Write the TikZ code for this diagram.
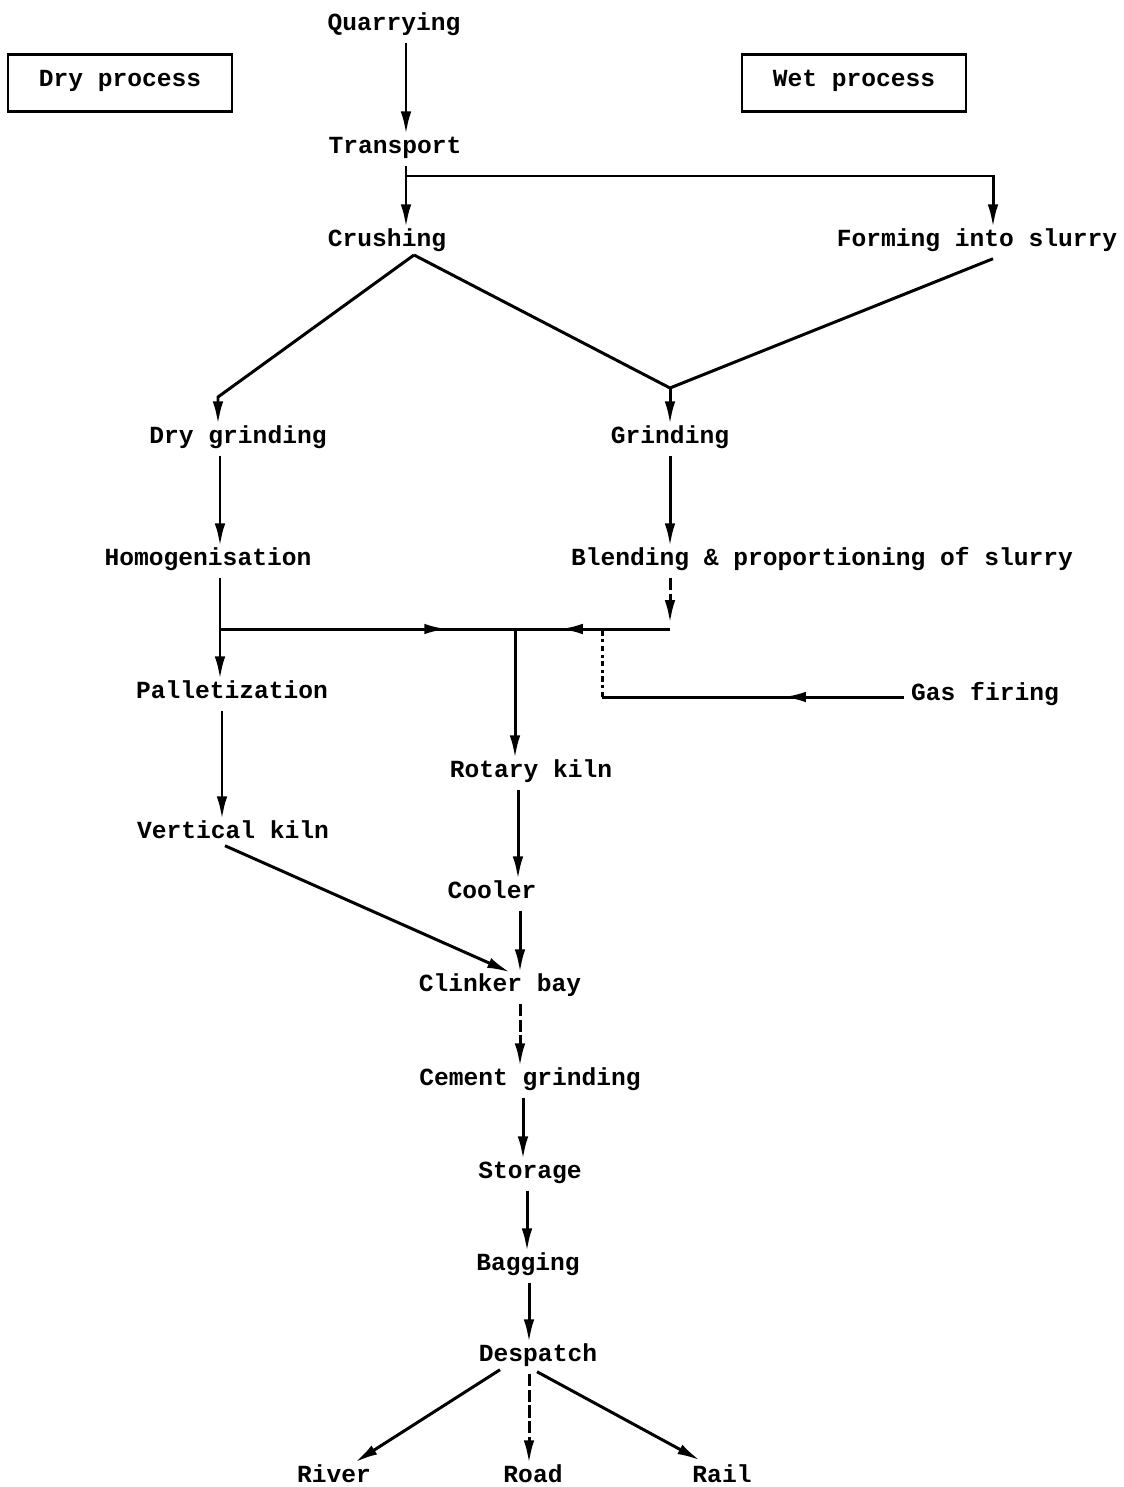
\documentclass[tikz,border=0pt]{standalone}
\usepackage{fontspec}
\setmonofont{Liberation Mono}
\usetikzlibrary{arrows.meta,calc,decorations.markings}
\begin{document}
\begin{tikzpicture}[x=0.02cm,y=-0.02cm,
  lbl/.style={font=\ttfamily\bfseries\fontsize{14}{16}\selectfont, inner sep=4pt, text height=0.7em, text depth=0.25em},
  boxlbl/.style={lbl, draw, line width=1.3pt, minimum width=4.48cm, minimum height=1.14cm},
  ln/.style={line width=1.7pt},
  arr/.style={ln, -{Latex[length=13pt,width=6pt]}},
  midarr/.style={ln, postaction={decorate}, decoration={markings, mark=at position #1 with {\arrow{Latex[length=13pt,width=6pt]}}}},
  midarr/.default=0.5,
  dsh/.style={dash pattern=on 7pt off 2pt},
]
\useasboundingbox (0,0) rectangle (1123,1487);

% labels
\node[boxlbl] (dry) at (120,83) {Dry process};
\node[boxlbl] (wet) at (854,83) {Wet process};
\node[lbl] (quarry) at (394,27) {Quarrying};
\node[lbl] (transport) at (395,150) {Transport};
\node[lbl] (crushing) at (387,243) {Crushing};
\node[lbl] (forming) at (977,243) {Forming into slurry};
\node[lbl] (drygrind) at (238,440) {Dry grinding};
\node[lbl] (grinding) at (670,440) {Grinding};
\node[lbl] (homog) at (208,562) {Homogenisation};
\node[lbl] (blending) at (822,562) {Blending \& proportioning of slurry};
\node[lbl] (pallet) at (232,695) {Palletization};
\node[lbl] (gas) at (985,697) {Gas firing};
\node[lbl] (rotary) at (531,774) {Rotary kiln};
\node[lbl] (vertical) at (233,835) {Vertical kiln};
\node[lbl] (cooler) at (492,895) {Cooler};
\node[lbl] (clinker) at (500,988) {Clinker bay};
\node[lbl] (cement) at (530,1082) {Cement grinding};
\node[lbl] (storage) at (530,1175) {Storage};
\node[lbl] (bagging) at (528,1267) {Bagging};
\node[lbl] (despatch) at (538,1358) {Despatch};
\node[lbl] (river) at (334,1479) {River};
\node[lbl] (road) at (533,1479) {Road};
\node[lbl] (rail) at (722,1479) {Rail};

% junction coordinates
\coordinate (br) at (406,176);
\coordinate (apex) at (414,255);
\coordinate (dl) at (218,397);
\coordinate (dr) at (670,388);
\coordinate (hb) at (220,629);
\coordinate (j) at (515,629);
\coordinate (bc) at (670,629);
\coordinate (bd) at (670,623);
\coordinate (gk) at (602,697);
\coordinate (gt) at (602,629);

% top chain
\draw[arr] ($(quarry.south)+(12,0)$) -- ($(transport.north)+(11,0)$);
\draw[arr] ($(transport.south)+(11,0)$) -- ($(crushing.north)+(19,0)$);
\draw[arr] (br) -| ($(forming.north)+(16,0)$);

% V shapes
\draw[arr] (apex) -- (dl) -- ($(drygrind.north)+(-20,0)$);
\draw[ln] (apex) -- (dr);
\draw[ln] ($(forming.south)+(16,0)$) -- (dr);
\draw[arr] (dr) -- (grinding.north);

% second level
\draw[arr] ($(drygrind.south)+(-18,0)$) -- ($(homog.north)+(12,0)$);
\draw[arr] (grinding.south) -- ($(blending.north)+(-152,0)$);
\draw[arr] ($(homog.south)+(12,0)$) -- ($(pallet.north)+(-12,0)$);
\draw[midarr=0.77] (hb) -- (j);
\draw[arr, dsh] ($(blending.south)+(-152,0)$) -- (bd);
\draw[midarr=0.71] (bc) -- (j);
\draw[arr] (j) -- ($(rotary.north)+(-16,0)$);
\draw[midarr=0.4] (gas.west) -- (gk);
\draw[ln, dash dot] (gk) -- (gt);

% kilns
\draw[arr] ($(pallet.south)+(-10,0)$) -- ($(vertical.north)+(-11,0)$);
\draw[arr] ($(rotary.south)+(-13,0)$) -- ($(cooler.north)+(26,0)$);
\draw[arr] ($(vertical.south)+(-8,-5)$) -- ($(clinker.north)+(10,0)$);
\draw[arr] ($(cooler.south)+(28,0)$) -- ($(clinker.north)+(20,0)$);

% bottom chain
\draw[arr, dsh] ($(clinker.south)+(20,0)$) -- ($(cement.north)+(-10,0)$);
\draw[arr] ($(cement.south)+(-7,0)$) -- ($(storage.north)+(-7,0)$);
\draw[arr] ($(storage.south)+(-3,0)$) -- ($(bagging.north)+(-1,0)$);
\draw[arr] ($(bagging.south)+(1,0)$) -- ($(despatch.north)+(-9,0)$);
\draw[arr] ($(despatch.south)+(-38,-4)$) -- ($(river.north)+(21,-1)$);
\draw[arr, dsh] ($(despatch.south)+(-9,0)$) -- ($(road.north)+(-4,0)$);
\draw[arr] ($(despatch.south)+(-1,-2)$) -- ($(rail.north)+(-22,-3)$);
\end{tikzpicture}
\end{document}
